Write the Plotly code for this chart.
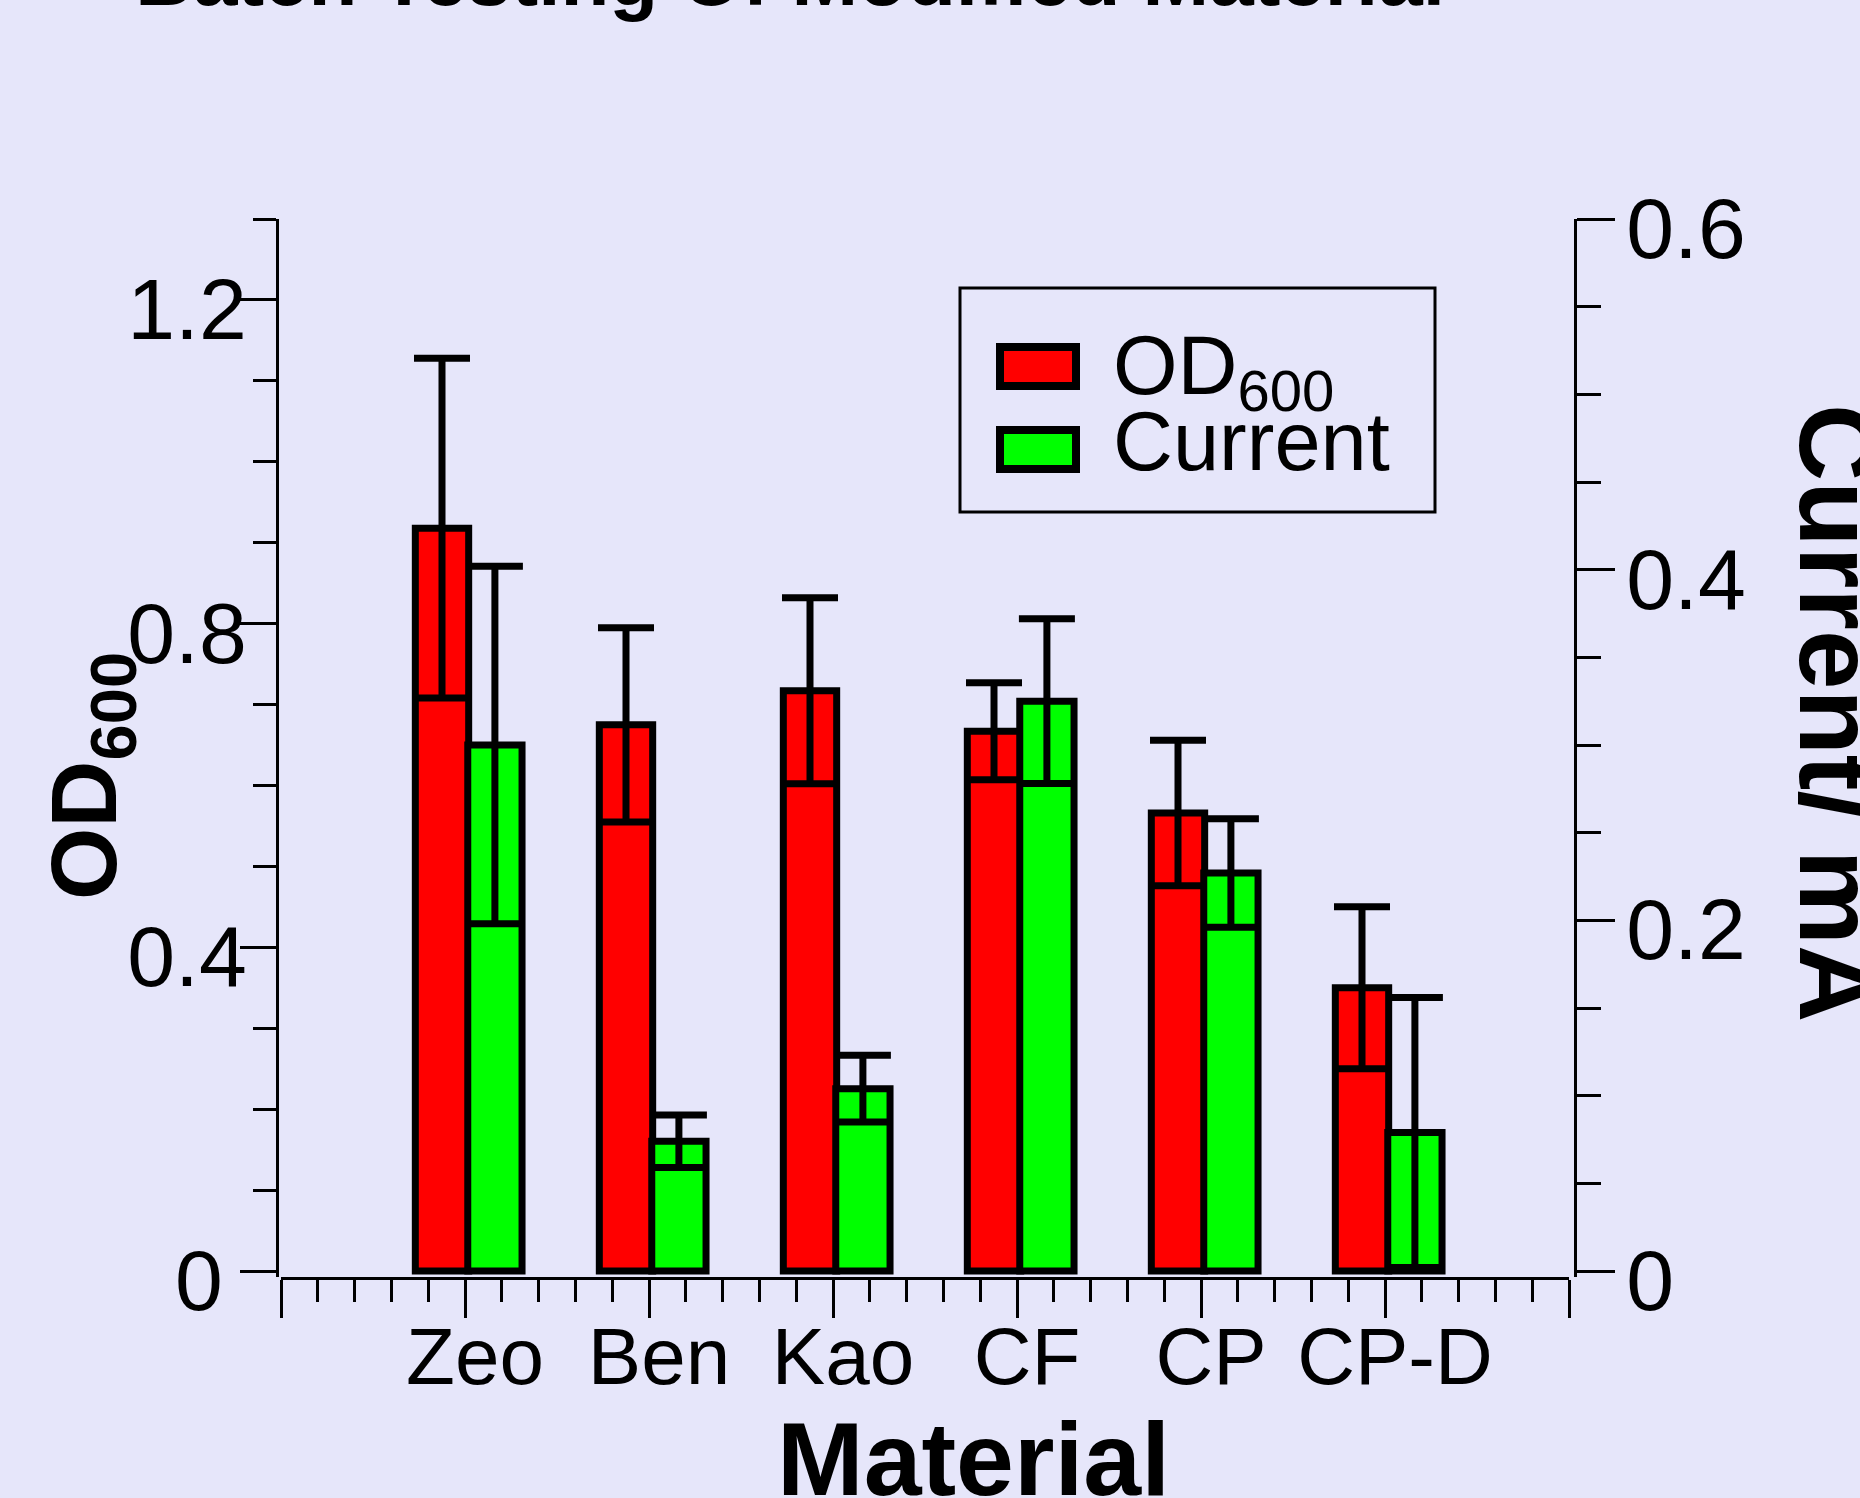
import plotly.graph_objects as go

# ---- data ----
categories = ["Zeo", "Ben", "Kao", "CF", "CP", "CP-D"]
positions = [1, 2, 3, 4, 5, 6]
od600 = [0.918, 0.675, 0.717, 0.667, 0.566, 0.350]
od600_err = [0.21, 0.12, 0.115, 0.06, 0.09, 0.10]
current = [0.300, 0.074, 0.104, 0.325, 0.227, 0.079]
current_err = [0.102, 0.015, 0.019, 0.047, 0.031, 0.077]
x_tickvals = [0, 1, 2, 3, 4, 5, 6, 7]
x_ticktext = [""] + categories + [""]
y_tickvals = [0, 0.4, 0.8, 1.2]
y_ticktext = ["0\u00a0", "0.4", "0.8", "1.2"]
y2_tickvals = [0, 0.2, 0.4, 0.6]
y2_ticktext = ["0", "0.2", "0.4", "0.6"]

W, H = 1860, 1498
ML, MR, MT, MB = 200, 200, 100, 150
PW, PH = W - ML - MR, H - MT - MB


def px(x):
    return (x - ML) / PW


def py(y):
    return (H - MB - y) / PH


BG = "#E6E6FA"
FONT = "Liberation Sans, Arial, sans-serif"

fig = go.Figure()
fig.add_trace(go.Bar(
    x=positions, y=od600, name="OD600", yaxis="y",
    width=0.29, offset=-0.27,
    marker=dict(color="#FF0000", line=dict(color="black", width=7)),
    error_y=dict(type="data", array=od600_err, visible=True, color="black", thickness=7, width=28),
    showlegend=False,
))
fig.add_trace(go.Bar(
    x=positions, y=current, name="Current", yaxis="y2",
    width=0.295, offset=0.015,
    marker=dict(color="#00FF00", line=dict(color="black", width=7)),
    error_y=dict(type="data", array=current_err, visible=True, color="black", thickness=7, width=28),
    showlegend=False,
))

axis_common = dict(showgrid=False, zeroline=False, showline=True, linecolor="black", linewidth=3,
                   ticks="outside", tickcolor="black", tickwidth=3)

fig.update_layout(
    width=W, height=H,
    margin=dict(l=ML, r=MR, t=MT, b=MB, autoexpand=False),
    paper_bgcolor=BG, plot_bgcolor=BG,
    barmode="overlay",
    showlegend=False,
    font=dict(family=FONT, color="black"),
    title=dict(text="Batch Testing Of Modified Material", x=790 / W, xref="container", xanchor="center",
               y=1 - 5 / H, yref="container", yanchor="bottom",
               font=dict(family=FONT, size=80, weight="bold", color="black")),
    xaxis=dict(**axis_common, domain=[px(281), px(1569)], range=[0, 7],
               tickmode="array", tickvals=x_tickvals, ticktext=x_ticktext, ticklen=38,
               ticklabelstandoff=-30, ticklabelshift=10,
               minor=dict(tickmode="linear", tick0=0, dtick=0.2, ticks="outside", ticklen=22,
                          tickwidth=3, tickcolor="black", showgrid=False),
               tickfont=dict(size=80, family=FONT)),
    yaxis=dict(**axis_common, domain=[py(1277), py(219)], range=[-6 * 1.3 / 1052, 1.3],
               anchor="free", position=px(277),
               tickmode="array", tickvals=y_tickvals, ticktext=y_ticktext, ticklen=36,
               ticklabelstandoff=-24, ticklabelshift=9,
               minor=dict(tickmode="linear", tick0=0, dtick=0.1, ticks="outside", ticklen=23, tickwidth=3,
                          tickcolor="black", showgrid=False),
               tickfont=dict(size=86, family=FONT)),
    yaxis2=dict(**axis_common, domain=[py(1277), py(219)], range=[-6 * 0.6 / 1052, 0.6],
                overlaying="y", side="right", anchor="free", position=px(1575),
                tickmode="array", tickvals=y2_tickvals, ticktext=y2_ticktext,
                ticklen=38, ticklabelstandoff=-6, ticklabelshift=9,
                minor=dict(tickmode="linear", tick0=0, dtick=0.05, ticks="outside", ticklen=24, tickwidth=3,
                           tickcolor="black", showgrid=False),
                tickfont=dict(size=86, family=FONT)),
)

# ---- axis titles ----
fig.add_annotation(text="Material", xref="paper", yref="paper", x=px(973), y=py(1459),
                   xanchor="center", yanchor="middle", showarrow=False,
                   font=dict(size=104, weight="bold", family=FONT))
fig.add_annotation(text="OD<sub>600</sub>", xref="paper", yref="paper", x=px(91), y=py(776),
                   xanchor="center", yanchor="middle", showarrow=False, textangle=-90,
                   font=dict(size=93, weight="bold", family=FONT))
fig.add_annotation(text="Current/ mA", xref="paper", yref="paper", x=px(1837), y=py(713),
                   xanchor="center", yanchor="middle", showarrow=False, textangle=90,
                   font=dict(size=107, weight="bold", family=FONT))

# ---- hand-drawn legend (large swatches as in the reference) ----
fig.add_shape(type="rect", xref="paper", yref="paper", x0=px(960), x1=px(1435), y0=py(512), y1=py(288),
              line=dict(color="black", width=3), fillcolor="rgba(0,0,0,0)")
fig.add_shape(type="rect", xref="paper", yref="paper", x0=px(1000), x1=px(1076), y0=py(386), y1=py(347),
              line=dict(color="black", width=8), fillcolor="#FF0000")
fig.add_shape(type="rect", xref="paper", yref="paper", x0=px(1000), x1=px(1076), y0=py(469), y1=py(430),
              line=dict(color="black", width=8), fillcolor="#00FF00")
fig.add_annotation(text="OD<sub>600</sub>", xref="paper", yref="paper", x=px(1111), y=py(371),
                   xanchor="left", yanchor="middle", showarrow=False, font=dict(size=83, family=FONT))
fig.add_annotation(text="Current", xref="paper", yref="paper", x=px(1111), y=py(441),
                   xanchor="left", yanchor="middle", showarrow=False, font=dict(size=83, family=FONT))

fig.write_html("out.html")
